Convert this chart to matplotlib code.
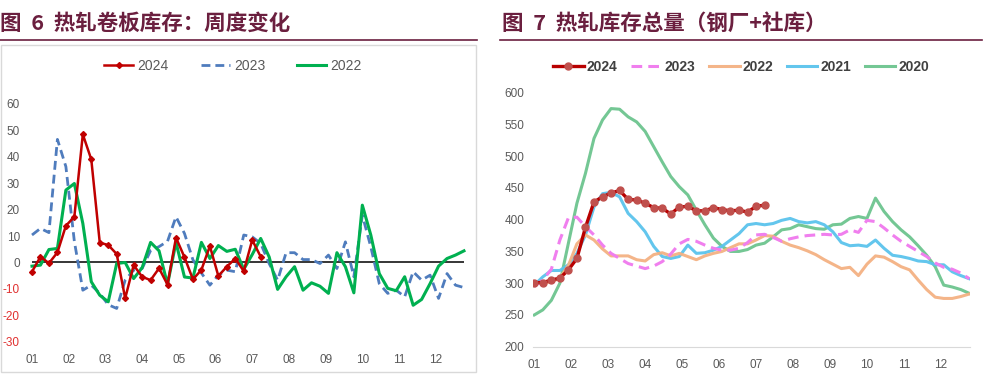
import numpy as np
import matplotlib.pyplot as plt
from matplotlib.lines import Line2D
from matplotlib.patches import Rectangle

plt.rcParams['font.family'] = ['Liberation Sans Narrow', 'Liberation Sans', 'DejaVu Sans']

# ---- data ----
months = ['01', '02', '03', '04', '05', '06', '07', '08', '09', '10', '11', '12']

# 图6 周度变化 (万吨)
chg_2024 = [-3.5, 2.2, -0.3, 3.8, 13.9, 17.3, 48.5, 39.0, 7.5, 6.6, 3.2, -13.6, -1.0, -5.4,
            -6.7, -2.2, -8.4, 9.4, 2.0, -6.4, -2.8, 6.2, -5.1, -1.6, 1.5, -3.3, 8.5, 2.2]
chg_2023 = [10.4, 12.9, 11.3, 46.6, 36.3, 8.0, -10.5, -8.6, -11.7, -16.0, -17.4, -6.7, -2.9, -2.3,
            4.5, 6.0, 8.0, 17.3, 11.0, 1.0, -4.0, -8.6, -4.8, -2.9, -3.5, 10.4, 9.7, 7.2,
            -0.4, -6.7, 3.7, 3.7, 1.1, 1.1, -0.4, 2.8, -2.3, 7.8, -5.4, 17.9, 5.9, -8.0,
            -11.7, -10.5, -13.0, -3.5, -6.7, -4.8, -13.6, -4.2, -8.6, -9.5]
chg_2022 = [-1.4, -1.0, 4.9, 5.3, 27.4, 29.9, 14.8, -7.3, -12.4, -14.9, -0.4, 0.0, -6.1, -2.0,
            7.6, 4.4, -8.3, 7.6, -5.5, -5.9, 7.6, 1.5, 6.4, 4.2, 5.0, -2.6, 3.0, 9.1,
            2.1, -10.2, -5.4, -1.6, -10.5, -7.7, -9.0, -11.7, 3.7, -1.6, -11.5, 21.7, 10.4, -4.2,
            -9.8, -10.7, -5.4, -16.2, -14.0, -8.0, -1.4, 1.5, 2.8, 4.4]

# 图7 库存总量 (万吨)
inv_2024 = [301, 301, 305, 308, 321, 339, 388, 428, 436, 442, 446, 432, 431, 426,
            419, 418, 409, 420, 421, 414, 414, 419, 416, 414, 415, 412, 421, 423]
inv_2023 = [295, 305, 322, 368, 403, 404, 389, 376, 360, 347, 339, 331, 327, 323,
            327, 334, 346, 362, 369, 366, 360, 355, 352, 352, 355, 364, 376, 377,
            372, 366, 370, 373, 375, 376, 377, 376, 377, 384, 380, 399, 397, 387,
            376, 366, 358, 350, 342, 332, 325, 322, 316, 307]
inv_2022 = [300, 300, 302, 308, 328, 362, 376, 368, 354, 343, 343, 343, 337, 335,
            345, 348, 343, 347, 342, 337, 343, 347, 350, 356, 362, 362, 368, 375,
            374, 366, 360, 356, 351, 345, 337, 330, 323, 325, 312, 330, 343, 341,
            334, 326, 321, 305, 290, 278, 276, 276, 279, 283]
inv_2021 = [297, 310, 320, 320, 329, 347, 376, 420, 441, 443, 436, 410, 397, 381,
            358, 342, 339, 342, 360, 347, 348, 352, 358, 368, 378, 392, 394, 392,
            394, 399, 402, 397, 395, 397, 392, 381, 364, 359, 360, 358, 368, 355,
            344, 342, 339, 335, 334, 329, 329, 318, 312, 307]
inv_2020 = [250, 258, 273, 300, 363, 426, 473, 528, 557, 575, 574, 562, 554, 539,
            515, 491, 468, 452, 439, 415, 392, 371, 358, 350, 350, 353, 360, 363,
            373, 384, 386, 392, 389, 386, 385, 392, 393, 402, 405, 402, 434, 413,
            397, 384, 373, 359, 344, 326, 297, 294, 290, 284]

W, H = 1002, 375
maroon = '#6B1F3F'
grey_txt = '#595959'


def fx(px):
    return px / W


def fy(py):
    return 1 - py / H


fig = plt.figure(figsize=(W / 100, H / 100), dpi=100)

# titles, underlines, panel frame
title_font = ['Noto Sans CJK SC', 'DejaVu Sans']
fig.text(fx(0), fy(23), '图  6  热轧卷板库存：周度变化', family=title_font, fontsize=15.5,
         fontweight='bold', color=maroon, va='center', ha='left')
fig.text(fx(502), fy(23), '图  7  热轧库存总量（钢厂+社库）', family=title_font, fontsize=15.5,
         fontweight='bold', color=maroon, va='center', ha='left')
fig.add_artist(Line2D([fx(0), fx(477)], [fy(40), fy(40)], color=maroon, lw=1.2))
fig.add_artist(Line2D([fx(500), fx(982)], [fy(40), fy(40)], color=maroon, lw=1.2))
fig.add_artist(Rectangle((fx(0.5), fy(372)), fx(475), (372 - 45) / H, fill=False,
                         edgecolor='#D9D9D9', lw=1.0))

month_pos = np.arange(12) * 52 / 12

# ---- left chart ----
ax1 = fig.add_axes([fx(24), fy(341.7), fx(476 - 24), (341.7 - 104) / H])
w24 = np.arange(len(chg_2024))
w = np.arange(len(chg_2023))
ax1.hlines(0, w[0], w[-1], color='#262626', lw=1.3, zorder=1)
ax1.plot(w, chg_2023, color='#4F7CBD', lw=2.0, ls=(0, (3.2, 1.8)), label='2023', zorder=2)
ax1.plot(w, chg_2022, color='#00B050', lw=2.2, label='2022', zorder=3)
ax1.plot(w24, chg_2024, color='#C00000', lw=1.8, marker='D', ms=3, label='2024', zorder=4)
ax1.set_xlim(-8 / 8.47, 444 / 8.47)
ax1.set_ylim(-30, 60)
yt = np.arange(-30, 61, 10)
ax1.set_yticks(yt)
ax1.set_yticklabels([str(v) for v in yt], fontsize=8.5)
for lab, v in zip(ax1.get_yticklabels(), yt):
    lab.set_color('#E0302F' if v < 0 else grey_txt)
ax1.set_xticks(month_pos)
ax1.set_xticklabels(months, fontsize=8.5, color=grey_txt)
ax1.tick_params(length=0)
ax1.tick_params(axis='y', pad=3)
ax1.tick_params(axis='x', pad=9)
for s in ax1.spines.values():
    s.set_visible(False)
h, l = ax1.get_legend_handles_labels()
order = [l.index('2024'), l.index('2023'), l.index('2022')]
leg1 = fig.legend([h[i] for i in order], [l[i] for i in order], loc='center',
                  bbox_to_anchor=(fx(233), fy(66)), ncol=3, frameon=False, fontsize=10,
                  handlelength=2.1, handletextpad=0.3, columnspacing=2.3)
for t in leg1.get_texts():
    t.set_color(grey_txt)

# ---- right chart ----
ax2 = fig.add_axes([fx(533), fy(346.7), fx(437), 254 / H])
ax2.plot(w, inv_2020, color='#6CC48E', lw=2.2, label='2020', alpha=0.95)
ax2.plot(w, inv_2021, color='#5BC3EC', lw=2.2, label='2021', alpha=0.95)
ax2.plot(w, inv_2022, color='#F4B183', lw=2.2, label='2022', alpha=0.95)
ax2.plot(w, inv_2023, color='#F07FEE', lw=2.2, ls=(0, (3.5, 2)), label='2023')
ax2.plot(w24, inv_2024, color='#B80000', lw=2.4, marker='o', ms=5,
         markerfacecolor='#C0504D', markeredgecolor='#C0504D', label='2024')
ax2.set_xlim(-0.15, 51.08)
ax2.set_ylim(200, 600)
ax2.set_yticks(np.arange(200, 601, 50))
ax2.set_yticklabels([str(v) for v in range(200, 601, 50)], fontsize=8.5, color=grey_txt)
ax2.set_xticks(month_pos)
ax2.set_xticklabels(months, fontsize=8.5, color=grey_txt)
ax2.tick_params(length=0)
ax2.tick_params(axis='y', pad=6)
ax2.tick_params(axis='x', pad=9)
for k, s in ax2.spines.items():
    s.set_visible(k == 'bottom')
ax2.spines['bottom'].set_color('#D9D9D9')
h, l = ax2.get_legend_handles_labels()
order = [l.index(y) for y in ['2024', '2023', '2022', '2021', '2020']]
leg2 = fig.legend([h[i] for i in order], [l[i] for i in order], loc='center',
                  bbox_to_anchor=(fx(741), fy(67)), ncol=5, frameon=False,
                  prop={'size': 10, 'weight': 'bold'},
                  handlelength=2.2, handletextpad=0.2, columnspacing=1.0)
for t in leg2.get_texts():
    t.set_color('#404040')

fig.savefig('out.png', dpi=100)
